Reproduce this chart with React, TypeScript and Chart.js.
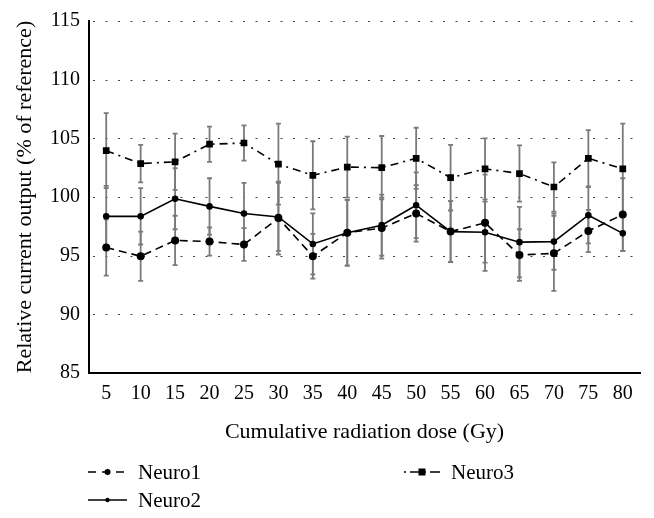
import React, { useEffect, useRef } from "react";
import { Chart, registerables } from "chart.js";

Chart.register(...registerables);

const doses = ["5", "10", "15", "20", "25", "30", "35", "40", "45", "50", "55", "60", "65", "70", "75", "80"];
const neuro1 = [95.7, 94.95, 96.3, 96.2, 95.95, 98.2, 94.95, 96.95, 97.35, 98.6, 97.05, 97.8, 95.05, 95.2, 97.1, 98.5];
const neuro1Err = [2.4, 2.1, 2.1, 1.2, 1.4, 3.1, 1.9, 2.8, 2.6, 2.4, 2.6, 4.1, 2.2, 3.2, 1.8, 3.1];
const neuro2 = [98.35, 98.35, 99.85, 99.2, 98.6, 98.3, 96.0, 96.95, 97.6, 99.3, 97.05, 97.0, 96.15, 96.2, 98.45, 96.9];
const neuro2Err = [2.6, 2.4, 2.6, 2.4, 2.6, 2.9, 2.6, 2.8, 2.6, 2.8, 2.6, 2.6, 3.0, 2.4, 2.4, 1.5];
const neuro3 = [103.95, 102.85, 103.0, 104.5, 104.6, 102.8, 101.85, 102.55, 102.5, 103.3, 101.65, 102.4, 102.0, 100.85, 103.3, 102.4];
const neuro3Err = [3.2, 1.6, 2.4, 1.5, 1.5, 3.45, 2.9, 2.6, 2.7, 2.6, 2.8, 2.6, 2.4, 2.1, 2.4, 3.85];
const yTicks = [85, 90, 95, 100, 105, 110, 115];
const gridValues = [90, 95, 100, 105, 110, 115];

const FONT = "'Liberation Serif', 'DejaVu Serif', serif";

const gridPlugin = {
  id: "dottedGrid",
  beforeDatasetsDraw(chart: any) {
    const ctx = chart.ctx;
    const y = chart.scales.y;
    const { left, right } = chart.chartArea;
    ctx.save();
    ctx.strokeStyle = "#444";
    ctx.lineWidth = 1.2;
    ctx.setLineDash([2, 10.5]);
    gridValues.forEach((v) => {
      const py = Math.round(y.getPixelForValue(v)) + 0.5;
      ctx.beginPath();
      ctx.moveTo(left + 4, py);
      ctx.lineTo(right, py);
      ctx.stroke();
    });
    ctx.restore();
  },
};

const errorBarPlugin = {
  id: "errorBars",
  beforeDatasetsDraw(chart: any) {
    const ctx = chart.ctx;
    const x = chart.scales.x;
    const y = chart.scales.y;
    const errs = [neuro1Err, neuro2Err, neuro3Err];
    ctx.save();
    ctx.strokeStyle = "#7a7a7a";
    ctx.lineWidth = 1.8;
    chart.data.datasets.forEach((ds: any, di: number) => {
      ds.data.forEach((v: number, i: number) => {
        const e = errs[di][i];
        const px = x.getPixelForValue(i);
        const top = y.getPixelForValue(v + e);
        const bot = y.getPixelForValue(v - e);
        ctx.beginPath();
        ctx.moveTo(px, top);
        ctx.lineTo(px, bot);
        ctx.moveTo(px - 2.5, top);
        ctx.lineTo(px + 2.5, top);
        ctx.moveTo(px - 2.5, bot);
        ctx.lineTo(px + 2.5, bot);
        ctx.stroke();
      });
    });
    ctx.restore();
  },
};

const legendPlugin = {
  id: "customLegend",
  afterDraw(chart: any) {
    const ctx = chart.ctx;
    const items = [
      { label: "Neuro1", x: 88, y: 472, w: 39, dash: [8, 6], style: "circle", r: 3 },
      { label: "Neuro3", x: 404, y: 472, w: 36, dash: [2, 4, 10, 4], style: "rect", r: 3.5 },
      { label: "Neuro2", x: 88, y: 500, w: 39, dash: [], style: "circle", r: 2.2 },
    ];
    ctx.save();
    items.forEach((it) => {
      ctx.strokeStyle = "#000";
      ctx.lineWidth = 1.6;
      ctx.setLineDash(it.dash);
      ctx.beginPath();
      ctx.moveTo(it.x, it.y);
      ctx.lineTo(it.x + it.w, it.y);
      ctx.stroke();
      ctx.setLineDash([]);
      ctx.fillStyle = "#000";
      const cx = it.x + it.w / 2;
      if (it.style === "rect") {
        ctx.fillRect(cx - it.r, it.y - it.r, it.r * 2, it.r * 2);
      } else {
        ctx.beginPath();
        ctx.arc(cx, it.y, it.r, 0, Math.PI * 2);
        ctx.fill();
      }
      ctx.font = `21px ${FONT}`;
      ctx.textBaseline = "middle";
      ctx.textAlign = "left";
      ctx.fillText(it.label, it.x + it.w + 11, it.y + 1);
    });
    ctx.restore();
  },
};

export default function App() {
  const ref = useRef<HTMLCanvasElement>(null);
  useEffect(() => {
    if (!ref.current) return;
    const chart = new Chart(ref.current, {
      type: "line",
      data: {
        labels: doses,
        datasets: [
          {
            label: "Neuro1",
            data: neuro1,
            borderColor: "#000",
            backgroundColor: "#000",
            borderWidth: 1.6,
            borderDash: [8, 5],
            pointStyle: "circle",
            pointRadius: 3.2,
            tension: 0,
          },
          {
            label: "Neuro2",
            data: neuro2,
            borderColor: "#000",
            backgroundColor: "#000",
            borderWidth: 1.6,
            pointStyle: "circle",
            pointRadius: 2.5,
            tension: 0,
          },
          {
            label: "Neuro3",
            data: neuro3,
            borderColor: "#000",
            backgroundColor: "#000",
            borderWidth: 1.6,
            borderDash: [8, 5, 2, 5],
            pointStyle: "rect",
            pointRadius: 3.6,
            tension: 0,
          },
        ],
      },
      options: {
        animation: false,
        responsive: false,
        layout: { padding: { top: 19, right: 14, bottom: 73, left: 0 } },
        plugins: {
          legend: { display: false },
          tooltip: { enabled: false },
        },
        scales: {
          x: {
            offset: true,
            grid: { display: false, drawTicks: false },
            border: { display: true, color: "#000", width: 2 },
            ticks: { color: "#000", font: { family: FONT, size: 20 }, padding: 9, maxRotation: 0 },
            title: {
              display: true,
              text: "Cumulative radiation dose (Gy)",
              color: "#000",
              font: { family: FONT, size: 22 },
              padding: { top: 8, bottom: 0 },
            },
            afterFit: (s: any) => {
              s.height = 72;
            },
          },
          y: {
            min: 85,
            max: 115,
            afterBuildTicks: (s: any) => {
              s.ticks = yTicks.map((v) => ({ value: v }));
            },
            grid: { display: false, drawTicks: false },
            border: { display: true, color: "#000", width: 2 },
            ticks: { color: "#000", font: { family: FONT, size: 20 }, padding: 9 },
            title: {
              display: true,
              text: "Relative current output (% of reference)",
              color: "#000",
              font: { family: FONT, size: 22 },
              padding: { top: 12, bottom: 0 },
            },
            afterFit: (s: any) => {
              s.width = 89;
            },
          },
        },
      },
      plugins: [gridPlugin, errorBarPlugin, legendPlugin],
    } as any);
    return () => chart.destroy();
  }, []);
  return (
    <div style={{ position: "fixed", left: 0, top: 0, width: 654, height: 518, background: "#fff" }}>
      <canvas ref={ref} width={654} height={518} style={{ width: 654, height: 518 }} />
    </div>
  );
}
